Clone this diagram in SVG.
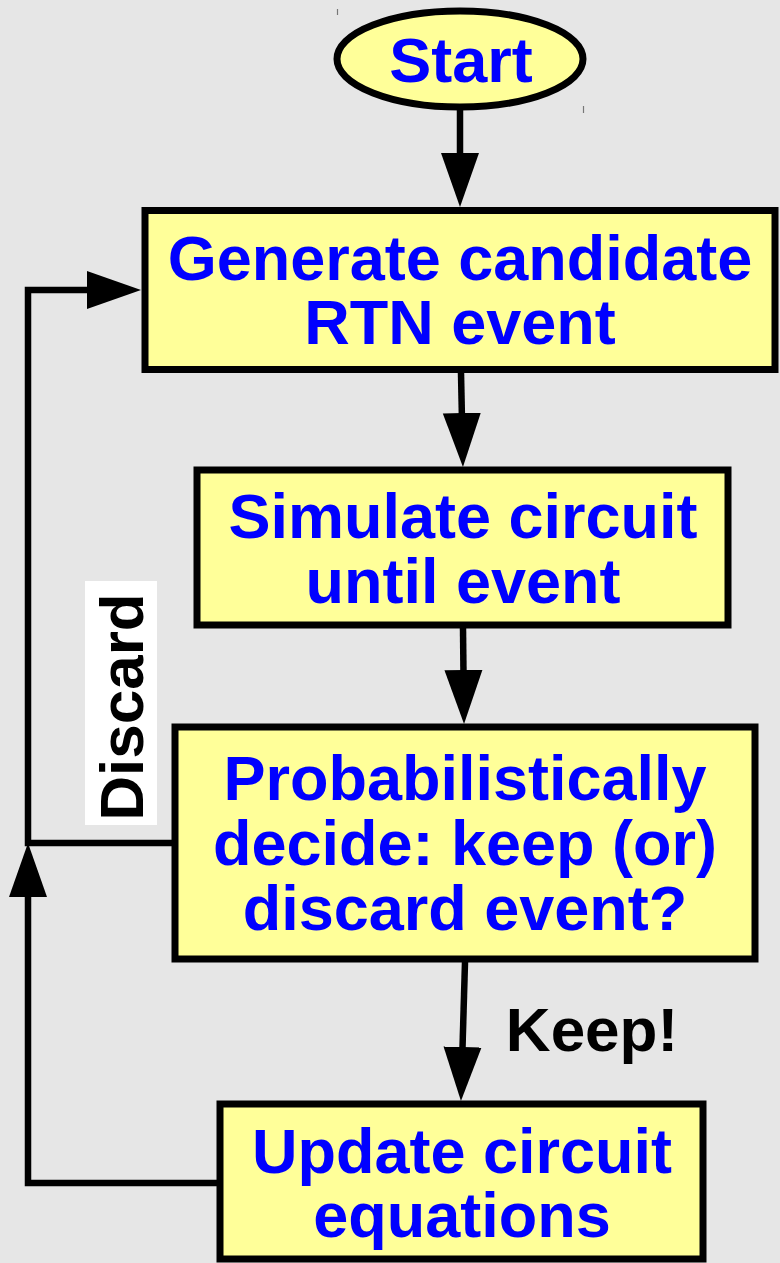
<svg xmlns="http://www.w3.org/2000/svg" width="780" height="1263" viewBox="0 0 780 1263">
  <style>
    .box { fill: #ffff99; stroke: #000; stroke-width: 7; }
    .label { font-family: "Liberation Sans", Arial, sans-serif; font-weight: bold; font-size: 63px; fill: #0000ff; text-anchor: middle; }
    .note { font-family: "Liberation Sans", Arial, sans-serif; font-weight: bold; font-size: 62px; fill: #000; text-anchor: middle; }
    .wire { fill: none; stroke: #000; stroke-width: 6.5; stroke-linejoin: miter; marker-end: url(#head); }
    .tick { stroke: #777; stroke-width: 1.2; }
  </style>
  <defs>
    <marker id="head" markerUnits="userSpaceOnUse" markerWidth="56" markerHeight="40" viewBox="0 0 56 40" refX="42" refY="20" orient="auto">
      <path d="M0,1 L54,20 L0,39 Z" fill="#000"/>
    </marker>
  </defs>

  <rect width="780" height="1263" fill="#e6e6e6"/>

  <!-- small handle marks around the start ellipse -->
  <line class="tick" x1="337.5" y1="9" x2="337.5" y2="15"/>
  <line class="tick" x1="583.5" y1="106" x2="583.5" y2="113"/>

  <g id="connectors">
    <path class="wire" d="M460,107 V195"/>
    <path class="wire" d="M461,373 L462.7,455"/>
    <path class="wire" d="M463,628 L463.9,712"/>
    <path class="wire" d="M465,962 L461.3,1089"/>
    <path class="wire" d="M220,1183 H28 V855"/>
    <path class="wire" d="M175,843 H28 V290 H129"/>
  </g>

  <g id="discard-label">
    <rect x="85" y="581" width="72" height="244" fill="#fff"/>
    <text class="note" transform="translate(143,707) rotate(-90)">Discard</text>
  </g>

  <g id="keep-label">
    <text class="note" x="592" y="1051" font-size="61">Keep!</text>
  </g>

  <g id="start">
    <ellipse cx="460" cy="59" rx="123" ry="48" class="box"/>
    <text class="label" x="461" y="82" font-size="62">Start</text>
  </g>

  <g id="generate">
    <rect x="145" y="210.5" width="630" height="159" class="box"/>
    <text class="label" x="460" y="280">Generate candidate</text>
    <text class="label" x="460" y="344">RTN event</text>
  </g>

  <g id="simulate">
    <rect x="197" y="470" width="531" height="155" class="box"/>
    <text class="label" x="463" y="538">Simulate circuit</text>
    <text class="label" x="463" y="603">until event</text>
  </g>

  <g id="decide">
    <rect x="175" y="727" width="580" height="232" class="box"/>
    <text class="label" x="465" y="800">Probabilistically</text>
    <text class="label" x="465" y="865">decide: keep (or)</text>
    <text class="label" x="465" y="930">discard event?</text>
  </g>

  <g id="update">
    <rect x="220" y="1104" width="483" height="155" class="box"/>
    <text class="label" x="462" y="1173">Update circuit</text>
    <text class="label" x="462" y="1237">equations</text>
  </g>
</svg>
